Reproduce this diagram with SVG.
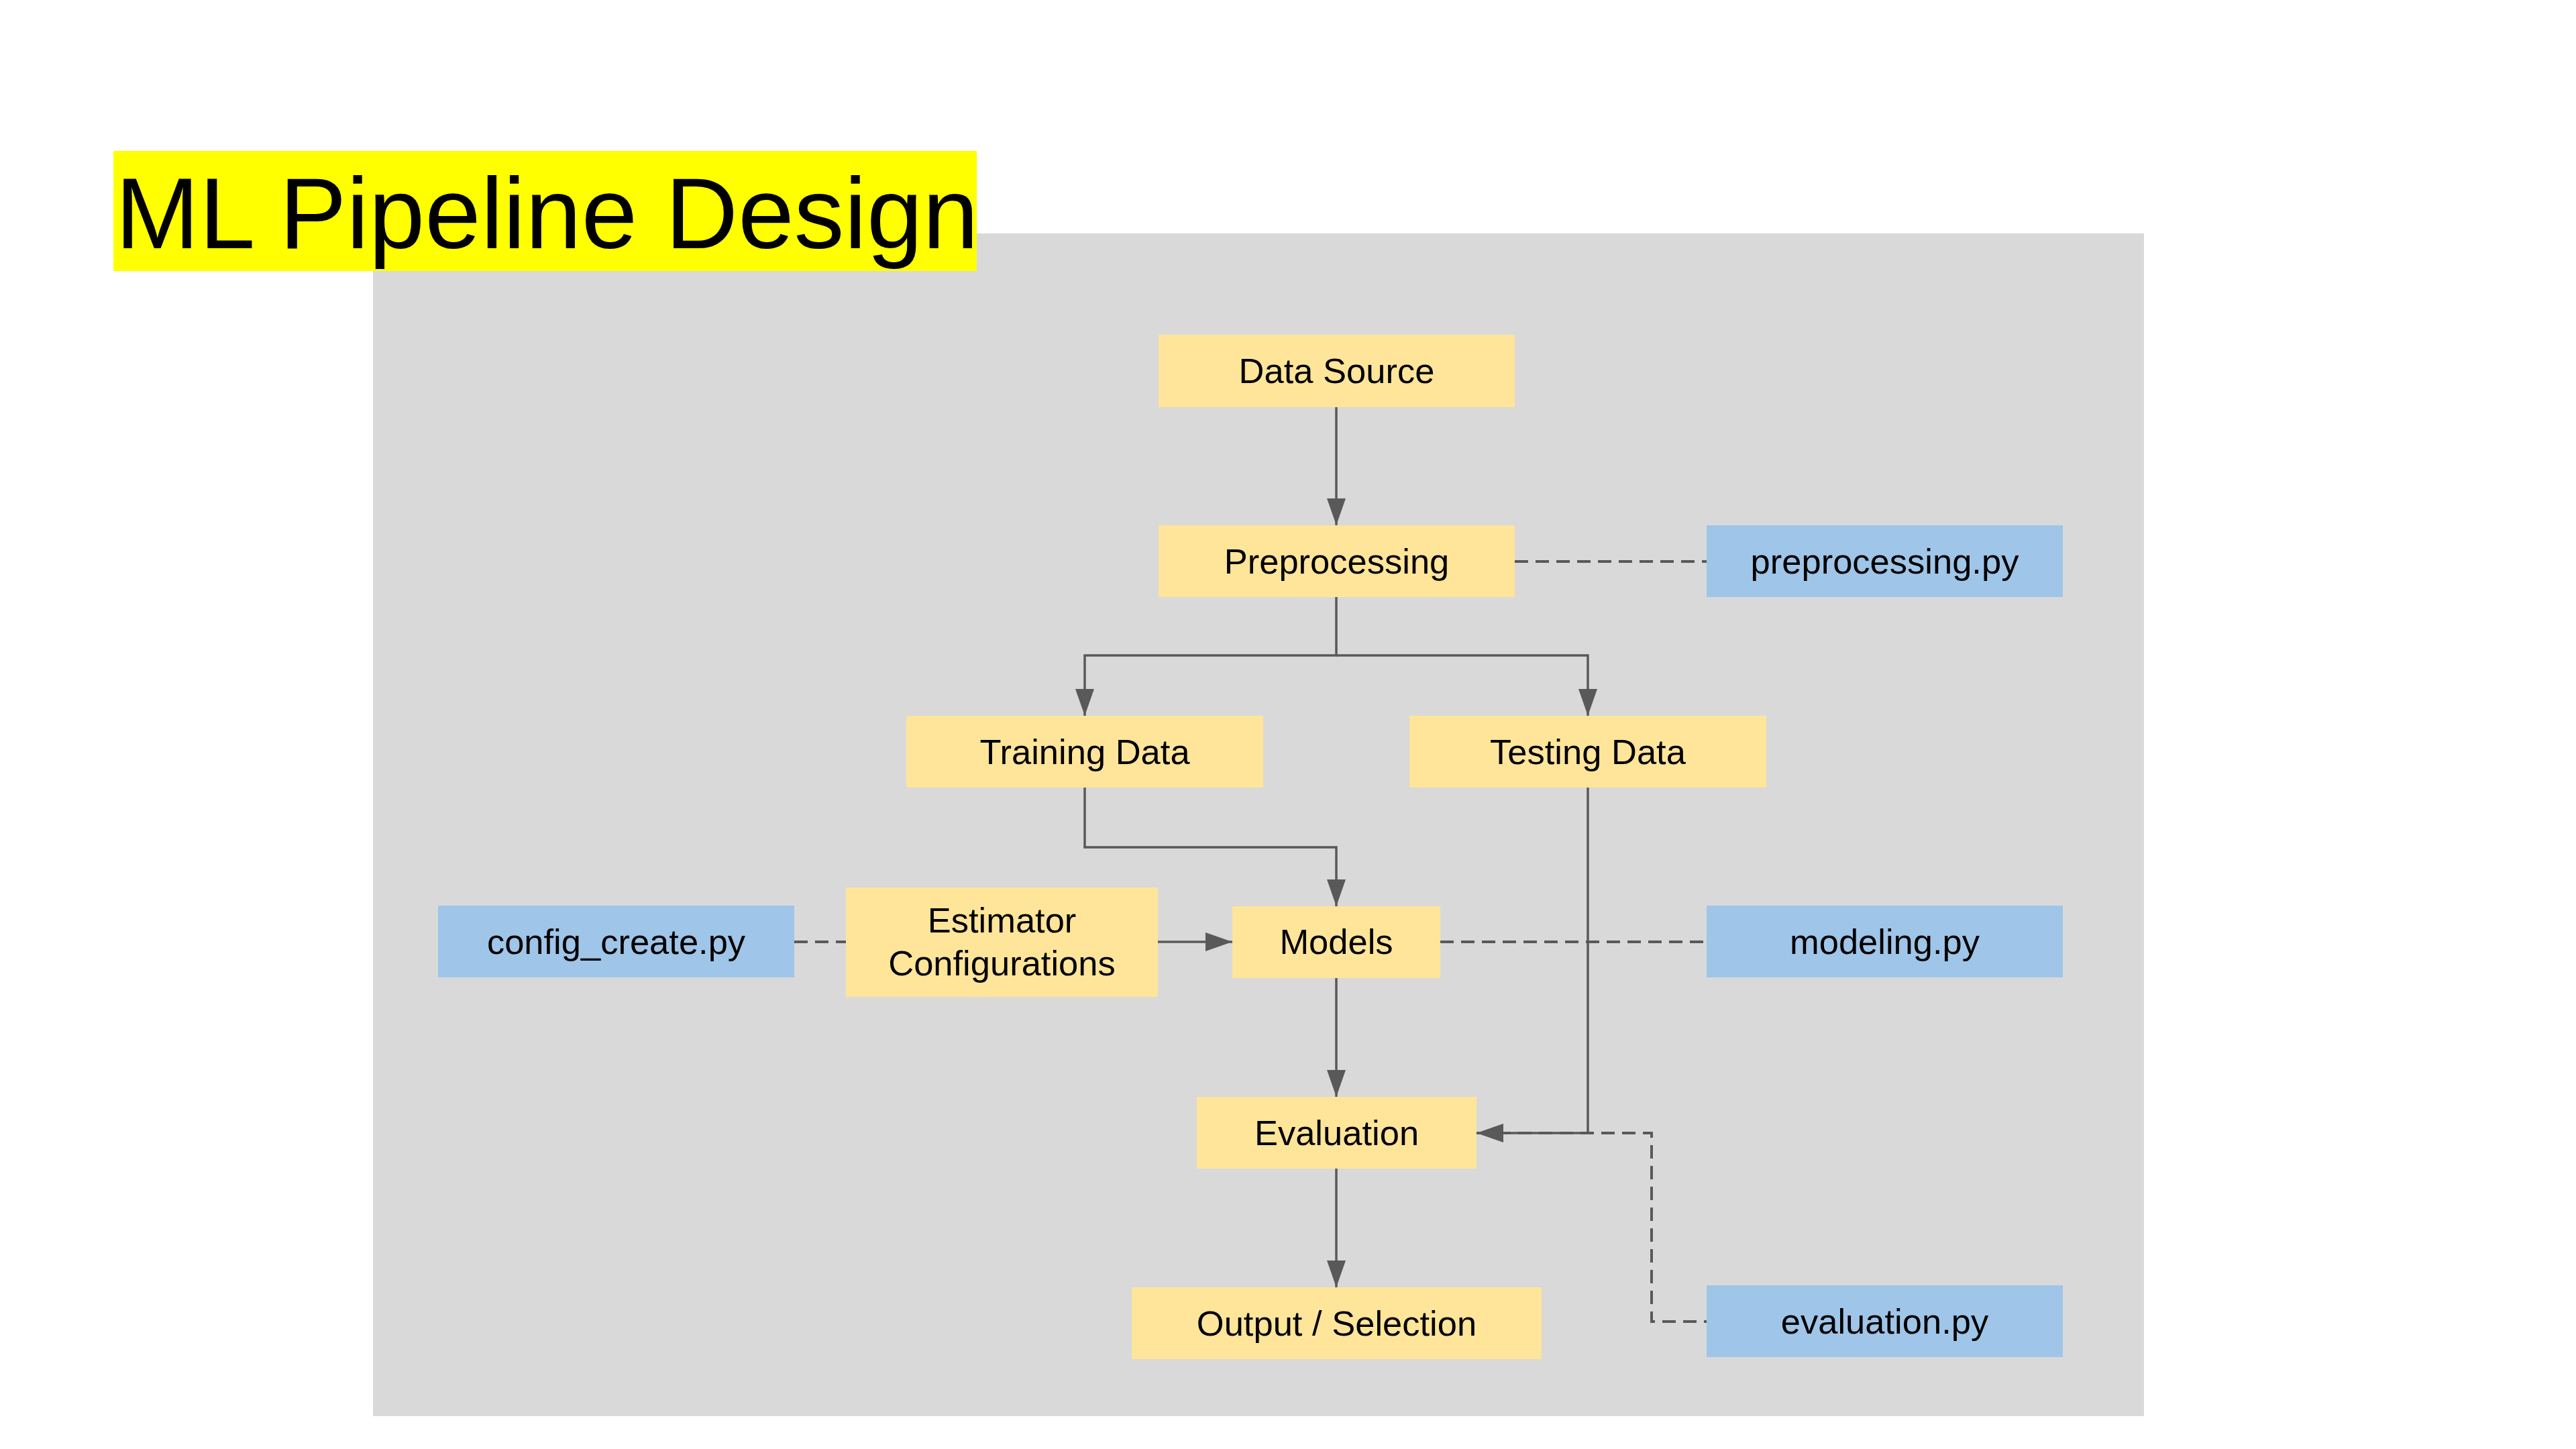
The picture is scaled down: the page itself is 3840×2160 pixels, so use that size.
<svg xmlns="http://www.w3.org/2000/svg" width="3840" height="2160" viewBox="0 0 3840 2160">
<style>
.y{fill:#FFE599}
.b{fill:#9FC5E8}
.t{font-family:"Liberation Sans",Arial,sans-serif;font-size:52.5px;fill:#000;text-anchor:middle}
.s{fill:none;stroke:#595959;stroke-width:3.5}
.d{fill:none;stroke:#595959;stroke-width:4;stroke-dasharray:20 11}
</style>
<defs>
<marker id="ah" markerUnits="userSpaceOnUse" markerWidth="40" markerHeight="28" refX="40" refY="14" orient="auto">
<path d="M0,0 L40,14 L0,28 z" fill="#595959"/>
</marker>
</defs>
<rect width="3840" height="2160" fill="#fff"/>
<rect x="556" y="348" width="2640" height="1763" fill="#D9D9D9"/>
<g id="title">
<rect x="169" y="225" width="1287" height="179" fill="#FFFF00"/>
<text x="172" y="370" font-family="Liberation Sans,Arial,sans-serif" font-size="150" fill="#000">ML Pipeline Design</text>
</g>
<g id="connectors">
<path class="d" d="M2258 837 H2544"/>
<path class="d" d="M1184 1404 H1261"/>
<path class="d" d="M2147 1404 H2544"/>
<path class="d" d="M2201 1689 H2462 V1970 H2544"/>
<path class="s" d="M1992 607 V783" marker-end="url(#ah)"/>
<path class="s" d="M1992 890 V977 H1617 V1067" marker-end="url(#ah)"/>
<path class="s" d="M1992 977 H2367 V1067" marker-end="url(#ah)"/>
<path class="s" d="M1617 1174 V1263 H1992 V1351" marker-end="url(#ah)"/>
<path class="s" d="M1726 1404 H1837" marker-end="url(#ah)"/>
<path class="s" d="M2367 1174 V1689 H2201" marker-end="url(#ah)"/>
<path class="s" d="M1992 1458 V1635" marker-end="url(#ah)"/>
<path class="s" d="M1992 1742 V1919" marker-end="url(#ah)"/>
</g>
<g id="data-source"><rect class="y" x="1727" y="499" width="531" height="108"/><text class="t" x="1992.5" y="571">Data Source</text></g>
<g id="preprocessing"><rect class="y" x="1727" y="783" width="531" height="107"/><text class="t" x="1992.5" y="855">Preprocessing</text></g>
<g id="preprocessing-py"><rect class="b" x="2544" y="783" width="531" height="107"/><text class="t" x="2809.5" y="855">preprocessing.py</text></g>
<g id="training-data"><rect class="y" x="1351" y="1067" width="532" height="107"/><text class="t" x="1617" y="1139">Training Data</text></g>
<g id="testing-data"><rect class="y" x="2101" y="1067" width="532" height="107"/><text class="t" x="2367" y="1139">Testing Data</text></g>
<g id="config-create-py"><rect class="b" x="653" y="1350" width="531" height="107"/><text class="t" x="918.5" y="1422">config_create.py</text></g>
<g id="estimator-configurations"><rect class="y" x="1261" y="1323" width="465" height="163"/><text class="t" x="1493.5" y="1390">Estimator</text><text class="t" x="1493.5" y="1454">Configurations</text></g>
<g id="models"><rect class="y" x="1837" y="1351" width="310" height="107"/><text class="t" x="1992" y="1422">Models</text></g>
<g id="modeling-py"><rect class="b" x="2544" y="1350" width="531" height="107"/><text class="t" x="2809.5" y="1422">modeling.py</text></g>
<g id="evaluation"><rect class="y" x="1784" y="1635" width="417" height="107"/><text class="t" x="1992.5" y="1707">Evaluation</text></g>
<g id="evaluation-py"><rect class="b" x="2544" y="1916" width="531" height="107"/><text class="t" x="2809.5" y="1988">evaluation.py</text></g>
<g id="output-selection"><rect class="y" x="1687" y="1919" width="611" height="107"/><text class="t" x="1992.5" y="1991">Output / Selection</text></g>
</svg>
